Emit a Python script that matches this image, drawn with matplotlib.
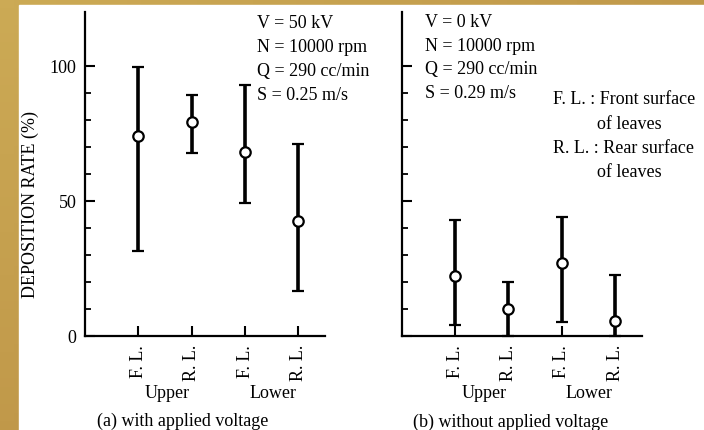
import numpy as np
import matplotlib
matplotlib.use("Agg")
import matplotlib.pyplot as plt
import matplotlib.transforms as mtransforms
from matplotlib.colors import LinearSegmentedColormap
from matplotlib.patches import Rectangle

# Deposition rate (%) - mean with min/max range
leaf_labels = ["F. L.", "R. L.", "F. L.", "R. L."]
group_labels = ["Upper", "Lower"]

with_mean = [74, 79, 68, 42.5]
with_high = [99.5, 89, 93, 71]
with_low = [31.5, 67.5, 49, 16.5]

without_mean = [22, 10, 27, 5.5]
without_high = [43, 20, 44, 22.5]
without_low = [4, 0, 5, 0]

cond_with = ["V = 50 kV", "N = 10000 rpm", "Q = 290 cc/min", "S = 0.25 m/s"]
cond_without = ["V = 0 kV", "N = 10000 rpm", "Q = 290 cc/min", "S = 0.29 m/s"]
legend_lines = ["F. L. : Front surface", "of leaves", "R. L. : Rear surface", "of leaves"]

plt.rcParams["font.family"] = ["Liberation Serif", "DejaVu Serif"]

W, H = 704, 431
fig = plt.figure(figsize=(W / 100, H / 100), dpi=100)


def px(x, y):
    return x / W, 1 - y / H


# gold frame on the top and left edge
bg = fig.add_axes([0, 0, 1, 1], zorder=-10)
gold = LinearSegmentedColormap.from_list("gold", ["#CCAA55", "#B6883F"])
grad = np.add.outer(np.linspace(0, 1, 50), np.linspace(0, 1, 50)) / 2
bg.imshow(grad, cmap=gold, aspect="auto", extent=[0, 1, 0, 1])
bg.add_patch(Rectangle((19 / W, 0), 1, 1 - 6 / H, color="white"))
bg.set_xlim(0, 1)
bg.set_ylim(0, 1)
bg.axis("off")

y0 = 336.7
scale = 2.7
top = y0 - 120 * scale
ax1 = fig.add_axes([85 / W, 1 - y0 / H, 240 / W, (y0 - top) / H])
ax2 = fig.add_axes([401.7 / W, 1 - y0 / H, 240 / W, (y0 - top) / H])

xs = np.arange(1, 5)
for ax, mean, hi, lo in [(ax1, with_mean, with_high, with_low),
                         (ax2, without_mean, without_high, without_low)]:
    mean = np.array(mean)
    err = [mean - np.array(lo), np.array(hi) - mean]
    ax.errorbar(xs, mean, yerr=err, fmt="o", color="black", ecolor="black",
                elinewidth=2.6, capsize=4.5, capthick=2, markersize=7.5,
                markerfacecolor="white", markeredgecolor="black",
                markeredgewidth=1.6, clip_on=False, zorder=3)
    ax.set_xlim(0, 4.5)
    ax.set_ylim(0, 120)
    for s in ["top", "right"]:
        ax.spines[s].set_visible(False)
    for s in ["left", "bottom"]:
        ax.spines[s].set_linewidth(1.6)
    ax.set_xticks(xs)
    ax.set_xticklabels(leaf_labels, rotation=90, fontsize=12)
    ax.set_yticks([0, 50, 100])
    ax.set_yticks([10, 20, 30, 40, 60, 70, 80, 90], minor=True)
    ax.tick_params(axis="both", which="major", direction="in", length=7,
                   width=1.5, labelsize=13, pad=6)
    ax.tick_params(axis="y", which="minor", direction="in", length=4.5, width=1.3)
    ax.set_facecolor("none")

    tr = mtransforms.blended_transform_factory(ax.transData, fig.transFigure)
    ax.text(1.55, 1 - 394 / H, group_labels[0], transform=tr, ha="center",
            va="center", fontsize=13)
    ax.text(3.52, 1 - 394 / H, group_labels[1], transform=tr, ha="center",
            va="center", fontsize=13)

ax2.tick_params(axis="y", labelleft=False)
ax1.set_ylabel("DEPOSITION RATE (%)", fontsize=13, va="center")
ax1.yaxis.set_label_coords(30 / W, 1 - 205 / H, transform=fig.transFigure)

for i, (a, b) in enumerate(zip(cond_with, cond_without)):
    yy = 24 + i * 23.7
    fig.text(*px(257, yy), a, ha="left", va="center", fontsize=13)
    fig.text(*px(425, yy - 1.5), b, ha="left", va="center", fontsize=13)

legend_x = [553, 597, 553, 597]
for i, (t, lx) in enumerate(zip(legend_lines, legend_x)):
    fig.text(*px(lx, 100 + i * 24.3), t, ha="left", va="center", fontsize=13)

fig.text(*px(97, 421), "(a) with applied voltage", ha="left", va="center",
         fontsize=13)
fig.text(*px(413, 422), "(b) without applied voltage", ha="left",
         va="center", fontsize=13)

fig.savefig("out.png", dpi=100)
